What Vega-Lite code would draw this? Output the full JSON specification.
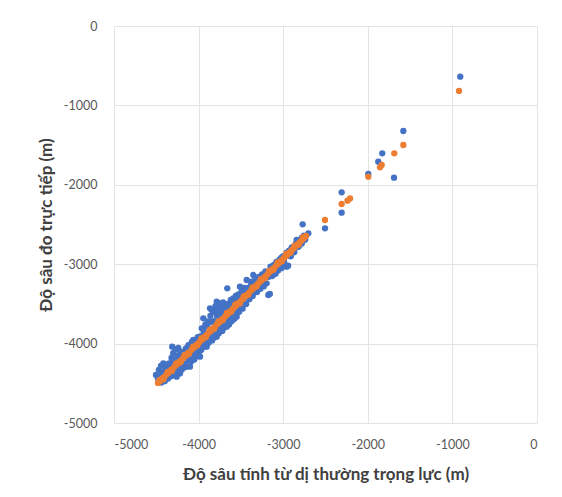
{
  "$schema": "https://vega.github.io/schema/vega-lite/v6.json",
  "width": 423,
  "height": 397,
  "autosize": {"type": "none"},
  "padding": {"left": 114, "top": 26, "right": 25, "bottom": 74},
  "background": "white",
  "config": {
    "view": {"stroke": null},
    "font": "Lato",
    "axis": {
      "grid": true,
      "gridColor": "#e4e4e4",
      "gridWidth": 1,
      "domain": false,
      "ticks": false,
      "labelFont": "Lato",
      "labelFontSize": 12.5,
      "labelColor": "#595959",
      "titleFont": "Lato",
      "titleFontSize": 17,
      "titleFontWeight": "bold",
      "titleColor": "#404040"
    }
  },
  "data": {
    "values": [
      {"s": "A", "x": -4504, "y": -4395}, {"s": "A", "x": -4480, "y": -4440}, {"s": "A", "x": -4470, "y": -4330},
      {"s": "A", "x": -4445, "y": -4282}, {"s": "A", "x": -4430, "y": -4380}, {"s": "A", "x": -4417, "y": -4248},
      {"s": "A", "x": -4400, "y": -4350}, {"s": "A", "x": -4385, "y": -4300}, {"s": "A", "x": -4370, "y": -4420},
      {"s": "A", "x": -4350, "y": -4250}, {"s": "A", "x": -4330, "y": -4390}, {"s": "A", "x": -4320, "y": -4180},
      {"s": "A", "x": -4312, "y": -4039}, {"s": "A", "x": -4300, "y": -4120}, {"s": "A", "x": -4290, "y": -4360},
      {"s": "A", "x": -4270, "y": -4070}, {"s": "A", "x": -4259, "y": -4417}, {"s": "A", "x": -4250, "y": -4150},
      {"s": "A", "x": -4240, "y": -4055}, {"s": "A", "x": -4220, "y": -4375}, {"s": "A", "x": -4210, "y": -4100},
      {"s": "A", "x": -4200, "y": -4330}, {"s": "A", "x": -4181, "y": -4122}, {"s": "A", "x": -4170, "y": -4300},
      {"s": "A", "x": -4150, "y": -4060}, {"s": "A", "x": -4140, "y": -4290}, {"s": "A", "x": -4120, "y": -4020},
      {"s": "A", "x": -4102, "y": -4291}, {"s": "A", "x": -4090, "y": -4230}, {"s": "A", "x": -4080, "y": -3980},
      {"s": "A", "x": -4063, "y": -3955}, {"s": "A", "x": -4050, "y": -4200}, {"s": "A", "x": -4030, "y": -4160},
      {"s": "A", "x": -4010, "y": -3920}, {"s": "A", "x": -4000, "y": -4120}, {"s": "A", "x": -3983, "y": -4165},
      {"s": "A", "x": -3970, "y": -4080}, {"s": "A", "x": -3963, "y": -3808}, {"s": "A", "x": -3950, "y": -3900},
      {"s": "A", "x": -3944, "y": -3682}, {"s": "A", "x": -3930, "y": -4040}, {"s": "A", "x": -3920, "y": -3760},
      {"s": "A", "x": -3904, "y": -4039}, {"s": "A", "x": -3890, "y": -3720}, {"s": "A", "x": -3880, "y": -3990},
      {"s": "A", "x": -3865, "y": -3556}, {"s": "A", "x": -3860, "y": -3650}, {"s": "A", "x": -3845, "y": -3577},
      {"s": "A", "x": -3840, "y": -3960}, {"s": "A", "x": -3820, "y": -3600}, {"s": "A", "x": -3810, "y": -3920},
      {"s": "A", "x": -3800, "y": -3530}, {"s": "A", "x": -3786, "y": -3472}, {"s": "A", "x": -3786, "y": -3913},
      {"s": "A", "x": -3770, "y": -3590}, {"s": "A", "x": -3760, "y": -3870}, {"s": "A", "x": -3747, "y": -3493},
      {"s": "A", "x": -3740, "y": -3560}, {"s": "A", "x": -3720, "y": -3840}, {"s": "A", "x": -3710, "y": -3480},
      {"s": "A", "x": -3700, "y": -3800}, {"s": "A", "x": -3690, "y": -3540}, {"s": "A", "x": -3668, "y": -3787},
      {"s": "A", "x": -3661, "y": -3304}, {"s": "A", "x": -3650, "y": -3500}, {"s": "A", "x": -3640, "y": -3760},
      {"s": "A", "x": -3620, "y": -3450}, {"s": "A", "x": -3610, "y": -3720}, {"s": "A", "x": -3590, "y": -3430},
      {"s": "A", "x": -3580, "y": -3690}, {"s": "A", "x": -3560, "y": -3400}, {"s": "A", "x": -3550, "y": -3661},
      {"s": "A", "x": -3530, "y": -3380}, {"s": "A", "x": -3520, "y": -3600}, {"s": "A", "x": -3511, "y": -3283},
      {"s": "A", "x": -3490, "y": -3340}, {"s": "A", "x": -3480, "y": -3560}, {"s": "A", "x": -3460, "y": -3300},
      {"s": "A", "x": -3438, "y": -3501}, {"s": "A", "x": -3432, "y": -3199}, {"s": "A", "x": -3420, "y": -3300},
      {"s": "A", "x": -3400, "y": -3440}, {"s": "A", "x": -3380, "y": -3220}, {"s": "A", "x": -3360, "y": -3400},
      {"s": "A", "x": -3353, "y": -3136}, {"s": "A", "x": -3330, "y": -3200}, {"s": "A", "x": -3310, "y": -3350},
      {"s": "A", "x": -3290, "y": -3160}, {"s": "A", "x": -3270, "y": -3310}, {"s": "A", "x": -3250, "y": -3130},
      {"s": "A", "x": -3230, "y": -3280}, {"s": "A", "x": -3210, "y": -3090}, {"s": "A", "x": -3196, "y": -3241},
      {"s": "A", "x": -3176, "y": -3388}, {"s": "A", "x": -3158, "y": -3375}, {"s": "A", "x": -3150, "y": -3030},
      {"s": "A", "x": -3130, "y": -3150}, {"s": "A", "x": -3110, "y": -3010}, {"s": "A", "x": -3090, "y": -3120},
      {"s": "A", "x": -3077, "y": -2968}, {"s": "A", "x": -3060, "y": -3080}, {"s": "A", "x": -3040, "y": -2940},
      {"s": "A", "x": -3020, "y": -3050}, {"s": "A", "x": -3000, "y": -2900}, {"s": "A", "x": -2980, "y": -3010},
      {"s": "A", "x": -2959, "y": -3031}, {"s": "A", "x": -2942, "y": -3018}, {"s": "A", "x": -2930, "y": -2830},
      {"s": "A", "x": -2910, "y": -2900}, {"s": "A", "x": -2890, "y": -2790}, {"s": "A", "x": -2870, "y": -2850},
      {"s": "A", "x": -2850, "y": -2740}, {"s": "A", "x": -2841, "y": -2695}, {"s": "A", "x": -2820, "y": -2780},
      {"s": "A", "x": -2800, "y": -2700}, {"s": "A", "x": -2780, "y": -2740}, {"s": "A", "x": -2770, "y": -2498},
      {"s": "A", "x": -2755, "y": -2640}, {"s": "A", "x": -2740, "y": -2690}, {"s": "A", "x": -2703, "y": -2611},
      {"s": "A", "x": -4460, "y": -4417}, {"s": "A", "x": -4440, "y": -4490}, {"s": "A", "x": -4420, "y": -4365},
      {"s": "A", "x": -4400, "y": -4473}, {"s": "A", "x": -4380, "y": -4332}, {"s": "A", "x": -4360, "y": -4441},
      {"s": "A", "x": -4340, "y": -4270}, {"s": "A", "x": -4320, "y": -4409}, {"s": "A", "x": -4300, "y": -4247},
      {"s": "A", "x": -4280, "y": -4366}, {"s": "A", "x": -4260, "y": -4195}, {"s": "A", "x": -4240, "y": -4334},
      {"s": "A", "x": -4220, "y": -4162}, {"s": "A", "x": -4200, "y": -4291}, {"s": "A", "x": -4180, "y": -4130},
      {"s": "A", "x": -4160, "y": -4259}, {"s": "A", "x": -4140, "y": -4088}, {"s": "A", "x": -4120, "y": -4206},
      {"s": "A", "x": -4100, "y": -4045}, {"s": "A", "x": -4080, "y": -4164}, {"s": "A", "x": -4060, "y": -4003},
      {"s": "A", "x": -4040, "y": -4121}, {"s": "A", "x": -4020, "y": -3960}, {"s": "A", "x": -4000, "y": -4069},
      {"s": "A", "x": -3980, "y": -3908}, {"s": "A", "x": -3960, "y": -4027}, {"s": "A", "x": -3940, "y": -3845},
      {"s": "A", "x": -3920, "y": -3984}, {"s": "A", "x": -3900, "y": -3783}, {"s": "A", "x": -3880, "y": -3942},
      {"s": "A", "x": -3860, "y": -3730}, {"s": "A", "x": -3840, "y": -3899}, {"s": "A", "x": -3820, "y": -3718},
      {"s": "A", "x": -3800, "y": -3857}, {"s": "A", "x": -3780, "y": -3656}, {"s": "A", "x": -3760, "y": -3814},
      {"s": "A", "x": -3740, "y": -3633}, {"s": "A", "x": -3720, "y": -3772}, {"s": "A", "x": -3700, "y": -3591},
      {"s": "A", "x": -3680, "y": -3739}, {"s": "A", "x": -3660, "y": -3558}, {"s": "A", "x": -3640, "y": -3697},
      {"s": "A", "x": -3620, "y": -3516}, {"s": "A", "x": -3600, "y": -3655}, {"s": "A", "x": -3580, "y": -3473},
      {"s": "A", "x": -3560, "y": -3602}, {"s": "A", "x": -3540, "y": -3431}, {"s": "A", "x": -3520, "y": -3550},
      {"s": "A", "x": -3500, "y": -3399}, {"s": "A", "x": -3470, "y": -3487}, {"s": "A", "x": -3440, "y": -3335},
      {"s": "A", "x": -3410, "y": -3423}, {"s": "A", "x": -3380, "y": -3271}, {"s": "A", "x": -3350, "y": -3359},
      {"s": "A", "x": -3320, "y": -3218}, {"s": "A", "x": -3290, "y": -3296}, {"s": "A", "x": -3260, "y": -3164},
      {"s": "A", "x": -3230, "y": -3222}, {"s": "A", "x": -3200, "y": -3100}, {"s": "A", "x": -3170, "y": -3158},
      {"s": "A", "x": -3140, "y": -3037}, {"s": "A", "x": -3110, "y": -3095}, {"s": "A", "x": -3080, "y": -2983},
      {"s": "A", "x": -3050, "y": -3031}, {"s": "A", "x": -3020, "y": -2919}, {"s": "A", "x": -2990, "y": -2967},
      {"s": "A", "x": -2960, "y": -2856}, {"s": "A", "x": -2930, "y": -2894}, {"s": "A", "x": -2900, "y": -2792},
      {"s": "A", "x": -2870, "y": -2830}, {"s": "A", "x": -2840, "y": -2728}, {"s": "A", "x": -2810, "y": -2766},
      {"s": "A", "x": -2780, "y": -2665}, {"s": "A", "x": -2750, "y": -2693},
      {"s": "A", "x": -2506, "y": -2548}, {"s": "A", "x": -2309, "y": -2095}, {"s": "A", "x": -2309, "y": -2351},
      {"s": "A", "x": -1994, "y": -1864}, {"s": "A", "x": -1876, "y": -1709}, {"s": "A", "x": -1829, "y": -1604},
      {"s": "A", "x": -1690, "y": -1910}, {"s": "A", "x": -1580, "y": -1322}, {"s": "A", "x": -907, "y": -638},
      {"s": "B", "x": -4480, "y": -4495}, {"s": "B", "x": -4455, "y": -4470}, {"s": "B", "x": -4430, "y": -4440},
      {"s": "B", "x": -4405, "y": -4420}, {"s": "B", "x": -4380, "y": -4390}, {"s": "B", "x": -4355, "y": -4368},
      {"s": "B", "x": -4330, "y": -4335}, {"s": "B", "x": -4305, "y": -4315}, {"s": "B", "x": -4280, "y": -4285},
      {"s": "B", "x": -4255, "y": -4262}, {"s": "B", "x": -4230, "y": -4230}, {"s": "B", "x": -4205, "y": -4210},
      {"s": "B", "x": -4180, "y": -4180}, {"s": "B", "x": -4155, "y": -4155}, {"s": "B", "x": -4130, "y": -4125},
      {"s": "B", "x": -4105, "y": -4104}, {"s": "B", "x": -4080, "y": -4075}, {"s": "B", "x": -4055, "y": -4050},
      {"s": "B", "x": -4030, "y": -4020}, {"s": "B", "x": -4005, "y": -3998}, {"s": "B", "x": -3980, "y": -3968},
      {"s": "B", "x": -3955, "y": -3945}, {"s": "B", "x": -3930, "y": -3915}, {"s": "B", "x": -3905, "y": -3892},
      {"s": "B", "x": -3880, "y": -3862}, {"s": "B", "x": -3855, "y": -3838}, {"s": "B", "x": -3830, "y": -3810},
      {"s": "B", "x": -3805, "y": -3785}, {"s": "B", "x": -3780, "y": -3756}, {"s": "B", "x": -3755, "y": -3732},
      {"s": "B", "x": -3730, "y": -3703}, {"s": "B", "x": -3705, "y": -3680}, {"s": "B", "x": -3680, "y": -3652},
      {"s": "B", "x": -3655, "y": -3627}, {"s": "B", "x": -3630, "y": -3598}, {"s": "B", "x": -3605, "y": -3574},
      {"s": "B", "x": -3580, "y": -3545}, {"s": "B", "x": -3555, "y": -3521}, {"s": "B", "x": -3530, "y": -3492},
      {"s": "B", "x": -3505, "y": -3468}, {"s": "B", "x": -3480, "y": -3440}, {"s": "B", "x": -3455, "y": -3414},
      {"s": "B", "x": -3430, "y": -3386}, {"s": "B", "x": -3405, "y": -3361}, {"s": "B", "x": -3380, "y": -3332},
      {"s": "B", "x": -3355, "y": -3308}, {"s": "B", "x": -3330, "y": -3280}, {"s": "B", "x": -3305, "y": -3255},
      {"s": "B", "x": -3280, "y": -3226}, {"s": "B", "x": -3255, "y": -3202}, {"s": "B", "x": -3230, "y": -3173},
      {"s": "B", "x": -3205, "y": -3149}, {"s": "B", "x": -3180, "y": -3120}, {"s": "B", "x": -3155, "y": -3096},
      {"s": "B", "x": -3130, "y": -3067}, {"s": "B", "x": -3105, "y": -3043}, {"s": "B", "x": -3080, "y": -3014},
      {"s": "B", "x": -3055, "y": -2990}, {"s": "B", "x": -3030, "y": -2961}, {"s": "B", "x": -3005, "y": -2937},
      {"s": "B", "x": -2980, "y": -2908}, {"s": "B", "x": -2955, "y": -2884}, {"s": "B", "x": -2930, "y": -2855},
      {"s": "B", "x": -2905, "y": -2831}, {"s": "B", "x": -2880, "y": -2802}, {"s": "B", "x": -2855, "y": -2778},
      {"s": "B", "x": -2830, "y": -2750}, {"s": "B", "x": -2805, "y": -2725}, {"s": "B", "x": -2780, "y": -2698},
      {"s": "B", "x": -2755, "y": -2672}, {"s": "B", "x": -2730, "y": -2645},
      {"s": "B", "x": -4465, "y": -4462}, {"s": "B", "x": -4415, "y": -4449}, {"s": "B", "x": -4365, "y": -4356},
      {"s": "B", "x": -4315, "y": -4343}, {"s": "B", "x": -4265, "y": -4250}, {"s": "B", "x": -4215, "y": -4237},
      {"s": "B", "x": -4165, "y": -4144}, {"s": "B", "x": -4115, "y": -4131}, {"s": "B", "x": -4065, "y": -4038},
      {"s": "B", "x": -4015, "y": -4025}, {"s": "B", "x": -3965, "y": -3932}, {"s": "B", "x": -3915, "y": -3919},
      {"s": "B", "x": -3865, "y": -3826}, {"s": "B", "x": -3815, "y": -3813}, {"s": "B", "x": -3765, "y": -3720},
      {"s": "B", "x": -3715, "y": -3707}, {"s": "B", "x": -3665, "y": -3613}, {"s": "B", "x": -3615, "y": -3600},
      {"s": "B", "x": -3565, "y": -3507}, {"s": "B", "x": -3515, "y": -3494}, {"s": "B", "x": -3465, "y": -3401},
      {"s": "B", "x": -3415, "y": -3388}, {"s": "B", "x": -3365, "y": -3295}, {"s": "B", "x": -3315, "y": -3282},
      {"s": "B", "x": -3265, "y": -3189}, {"s": "B", "x": -3215, "y": -3176}, {"s": "B", "x": -3165, "y": -3083},
      {"s": "B", "x": -3115, "y": -3070}, {"s": "B", "x": -3065, "y": -2977}, {"s": "B", "x": -3015, "y": -2964},
      {"s": "B", "x": -2965, "y": -2871}, {"s": "B", "x": -2915, "y": -2858}, {"s": "B", "x": -2865, "y": -2765},
      {"s": "B", "x": -2815, "y": -2752}, {"s": "B", "x": -2765, "y": -2659},
      {"s": "B", "x": -2506, "y": -2443}, {"s": "B", "x": -2309, "y": -2242}, {"s": "B", "x": -2240, "y": -2200},
      {"s": "B", "x": -2210, "y": -2171}, {"s": "B", "x": -1994, "y": -1898}, {"s": "B", "x": -1856, "y": -1780},
      {"s": "B", "x": -1836, "y": -1750}, {"s": "B", "x": -1687, "y": -1604}, {"s": "B", "x": -1580, "y": -1499},
      {"s": "B", "x": -922, "y": -818}
    ]
  },
  "mark": {"type": "circle", "opacity": 1, "size": 40},
  "encoding": {
    "x": {
      "field": "x", "type": "quantitative",
      "scale": {"domain": [-5000, 0], "nice": false, "zero": false},
      "axis": {"values": [-5000, -4000, -3000, -2000, -1000, 0], "labelExpr": "'' + datum.value", "labelPadding": 15, "titlePadding": 16, "title": "Độ sâu tính từ dị thường trọng lực (m)"}
    },
    "y": {
      "field": "y", "type": "quantitative",
      "scale": {"domain": [-5000, 0], "nice": false, "zero": false},
      "axis": {"values": [-5000, -4000, -3000, -2000, -1000, 0], "labelExpr": "'' + datum.value", "labelPadding": 17, "titlePadding": 8, "title": "Độ sâu đo trực tiếp (m)"}
    },
    "color": {
      "field": "s", "type": "nominal",
      "scale": {"domain": ["A", "B"], "range": ["#4472C4", "#ED7D31"]},
      "legend": null
    }
  }
}
